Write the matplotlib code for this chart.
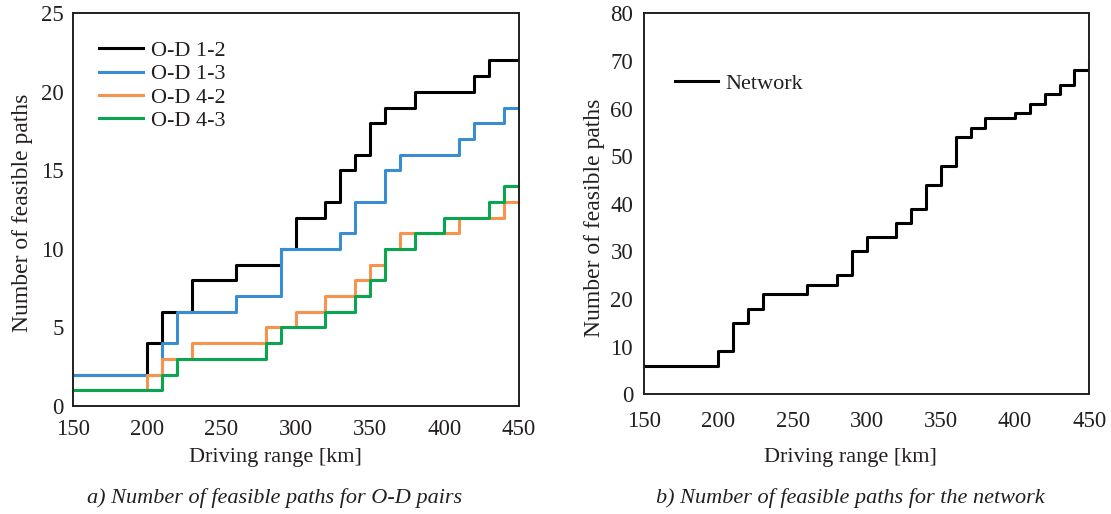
import matplotlib
matplotlib.use('Agg')
import matplotlib.pyplot as plt

plt.rcParams['font.family'] = ['Liberation Serif', 'DejaVu Serif']
plt.rcParams['text.color'] = '#231f20'

# driving range break points [km] and feasible path counts (step after each point)
od12_x = [150, 200, 210, 230, 260, 290, 300, 320, 330, 340, 350, 360, 380, 420, 430, 450]
od12_y = [2, 4, 6, 8, 9, 10, 12, 13, 15, 16, 18, 19, 20, 21, 22, 22]

od13_x = [150, 210, 220, 260, 290, 330, 340, 360, 370, 410, 420, 440, 450]
od13_y = [2, 4, 6, 7, 10, 11, 13, 15, 16, 17, 18, 19, 19]

od42_x = [150, 200, 210, 230, 280, 300, 320, 340, 350, 360, 370, 410, 440, 450]
od42_y = [1, 2, 3, 4, 5, 6, 7, 8, 9, 10, 11, 12, 13, 14]

od43_x = [150, 210, 220, 280, 290, 320, 340, 350, 360, 380, 400, 430, 440, 450]
od43_y = [1, 2, 3, 4, 5, 6, 7, 8, 10, 11, 12, 13, 14, 14]

net_x = [150, 200, 210, 220, 230, 260, 280, 290, 300, 320, 330, 340, 350, 360,
         370, 380, 400, 410, 420, 430, 440, 450]
net_y = [6, 9, 15, 18, 21, 23, 25, 30, 33, 36, 39, 44, 48, 54,
         56, 58, 59, 61, 63, 65, 68, 70]

x_ticks = [150, 200, 250, 300, 350, 400, 450]

series = [
    ('O-D 1-2', od12_x, od12_y, 'black'),
    ('O-D 1-3', od13_x, od13_y, '#3a8dd0'),
    ('O-D 4-2', od42_x, od42_y, '#f7934c'),
    ('O-D 4-3', od43_x, od43_y, '#0aa64f'),
]

fig = plt.figure(figsize=(11.11, 5.14), dpi=100)
ax1 = fig.add_axes([0.0654, 0.2101, 0.4015, 0.764])
ax2 = fig.add_axes([0.5799, 0.2329, 0.4005, 0.7412])

for name, xs, ys, color in series:
    ax1.step(xs, ys, where='post', color=color, lw=2.2, label=name)
ax2.step(net_x, net_y, where='post', color='black', lw=2.2, label='Network')

ax1.set_ylim(0, 25)
ax1.set_yticks(range(0, 26, 5))
ax2.set_ylim(0, 80)
ax2.set_yticks(range(0, 81, 10))

for ax in (ax1, ax2):
    ax.set_xlim(150, 450)
    ax.set_xticks(x_ticks)
    ax.tick_params(length=0, labelsize=16.5, colors='#231f20')
    for sp in ax.spines.values():
        sp.set_linewidth(1.4)
        sp.set_color('#231f20')

ax1.tick_params(axis='x', pad=9)
ax1.tick_params(axis='y', pad=6.5)
ax2.tick_params(axis='x', pad=12)
ax2.tick_params(axis='y', pad=8)

ax1.legend(loc='upper left', bbox_to_anchor=(0.02, 0.976), frameon=False,
           fontsize=16, handlelength=1.95, handletextpad=0.38, labelspacing=0.12,
           borderaxespad=0.4)
ax2.legend(loc='upper left', bbox_to_anchor=(0.025, 0.895), frameon=False,
           fontsize=16, handlelength=1.9, handletextpad=0.35)

fig.text(0.2475, 0.11, 'Driving range [km]', ha='center', va='center', fontsize=16)
fig.text(0.7658, 0.11, 'Driving range [km]', ha='center', va='center', fontsize=16)
fig.text(0.0207, 0.5856, 'Number of feasible paths', rotation=90, ha='center', va='center', fontsize=17)
fig.text(0.5347, 0.576, 'Number of feasible paths', rotation=90, ha='center', va='center', fontsize=17)
fig.text(0.2475, 0.031, 'a) Number of feasible paths for O-D pairs', style='italic',
         ha='center', va='center', fontsize=16)
fig.text(0.7658, 0.031, 'b) Number of feasible paths for the network', style='italic',
         ha='center', va='center', fontsize=16)

fig.savefig('out.png', dpi=100)
